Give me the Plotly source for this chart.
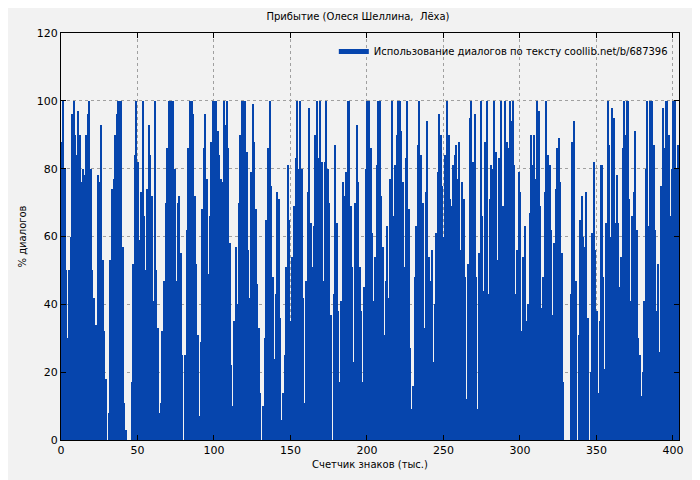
import plotly.graph_objects as go

seg1 = [88,100,80,50,30,50,60,96,100,90,84,97,90,76,80,78,90,96,100,80,50,42,34,34,78,76,93,53,32,18,0,8,53,74,77,90,96,100,100,100,57,11,3,0,0,0,17,52,84,100,82,59]
seg2 = [73,100,66,50,74,93,84,72,41,100,50,33,8,11,32,47,70,86,100,100,100,100,80,47,70,72,55,25,0,25,62,86,100,100,96,72,52,31,7,29,68,86,96,77,49,66,88,100,100,100,91,84]
seg3 = [77,76,100,93,100,86,58,22,10,35,57,40,70,90,100,100,100,85,56,42,79,99,88,68,46,33,14,0,10,30,65,86,100,75,48,24,43,73,71,36,6,14,25,51,81,65,35,54,69,83,100,80]
seg4 = [100,80,42,11,47,73,98,64,51,63,90,100,83,100,82,47,82,100,80,70,37,0,43,87,64,38,17,41,76,72,79,100,100,69,51,23,70,93,76,51,38,17,45,80,100,100,86,61,41,54,81,100]
seg5 = [100,72,57,31,47,63,42,77,100,66,81,90,100,100,91,76,51,83,100,68,27,9,16,48,63,87,100,84,70,33,73,94,54,47,56,23,40,61,79,96,90,75,60,84,100,90,71,69,81,84,87,77]
seg6 = [88,56,76,71,48,12,52,95,100,82,96,48,9,55,100,66,44,88,100,43,71,81,80,100,85,53,83,100,69,69,100,88,86,100,94,100,81,43,56,79,73,32,54,63,35,40,67,90,81]
seg7 = [90,77,100,97,69,39,48,73,100,84,81,62,37,58,74,86,89,76,55,17,0,0,0,0,43,88,94,47,0,31,65,72,60,57,73,36,0,20,61,82,56,38,14,35,81,48,21,64,100,87,60,98,95,64,78]
seg8 = [64,45,54,86,100,90,100,71,41,66,73,91,62,30,25,13,20,41,80,100,63,100,100,87,62,38,52,26,75,98,86,100,100,90,66,80,100,100,80,87,100,100,88]

values = seg1 + seg2 + seg3 + seg4 + seg5 + seg6 + seg7 + seg8
xs = list(range(len(values)))

x_ticks = [0, 50, 100, 150, 200, 250, 300, 350, 400]
y_ticks = [0, 20, 40, 60, 80, 100, 120]

blue = "#0645ad"
fig = go.Figure()
fig.add_trace(go.Bar(x=xs, y=values, width=1, marker=dict(color=blue, line=dict(width=0)),
                     showlegend=False, offset=0))
fig.add_trace(go.Scatter(x=[None], y=[None], mode="lines", line=dict(color=blue, width=5),
                         name="Использование диалогов по тексту coollib.net/b/687396"))

axis_common = dict(showline=True, linecolor="black", linewidth=1, mirror="ticks",
                   ticks="inside", ticklen=5, tickcolor="black", automargin=False,
                   showgrid=True, gridcolor="#a0a0a0", griddash="dot", gridwidth=1,
                   zeroline=False, tickfont=dict(size=11, color="black"))
fig.update_layout(
    width=700, height=480,
    paper_bgcolor="#f2f2f2", plot_bgcolor="#f2f2f2",
    font=dict(family="DejaVu Sans", size=11, color="black"),
    margin=dict(l=53, r=29, t=25, b=48),
    bargap=0,
    title=dict(text="Прибытие (Олеся Шеллина,  Лёха)", x=0.5, xanchor="center", y=0.99, yanchor="top",
               font=dict(size=10)),
    xaxis=dict(range=[0, 404], tickvals=x_ticks, title=dict(text="Счетчик знаков (тыс.)", standoff=4, font=dict(size=10)), **axis_common),
    yaxis=dict(range=[0, 120], tickvals=y_ticks, title=dict(text="% диалогов", standoff=8, font=dict(size=10)), **axis_common),
    legend=dict(x=0.99, y=0.99, xanchor="right", yanchor="top", bgcolor="rgba(0,0,0,0)",
                font=dict(size=10)),
)
fig.write_html("out.html")
